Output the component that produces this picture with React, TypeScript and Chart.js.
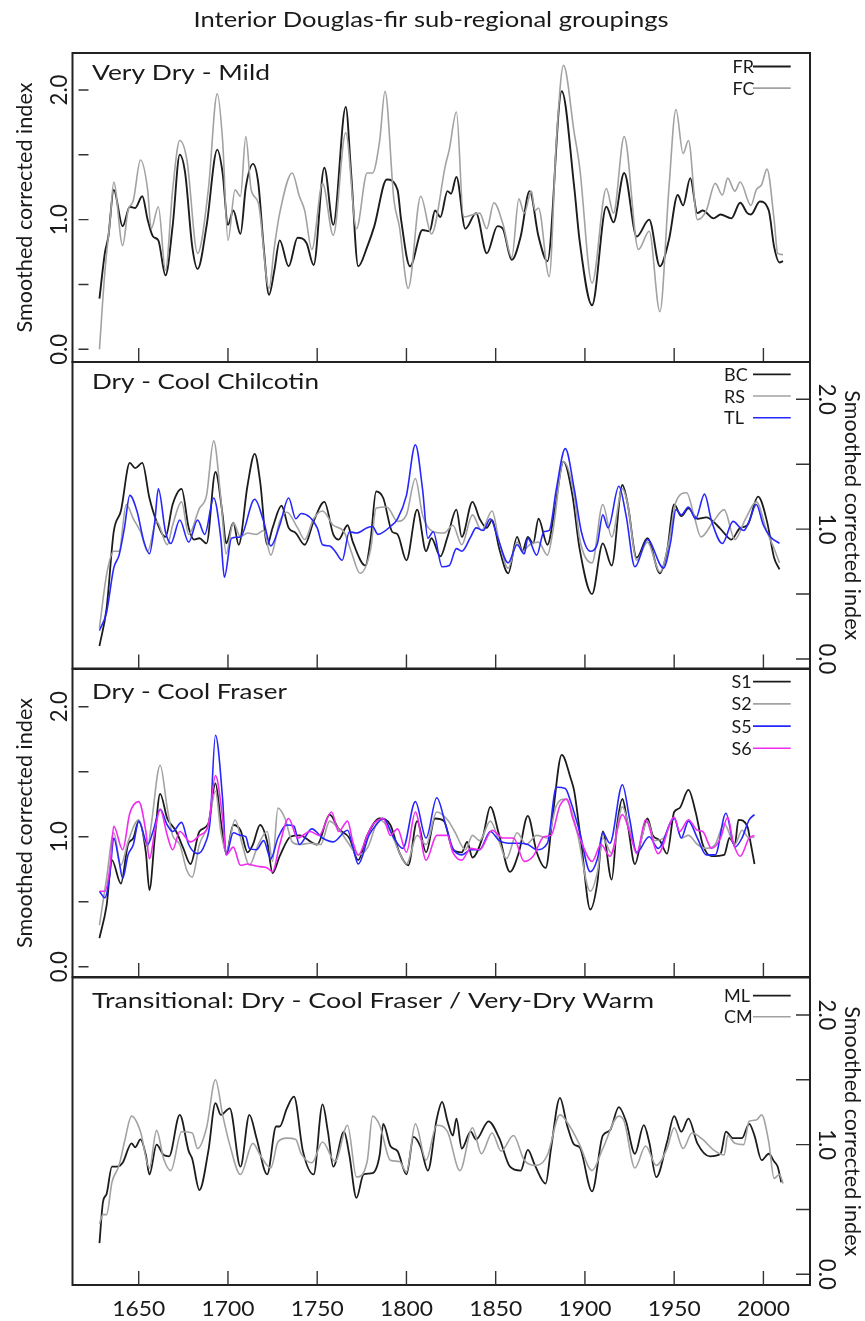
import React, { useEffect, useRef } from "react";
import { Chart, registerables } from "chart.js";

Chart.register(...registerables);

// ---------------- data ----------------
const FIGURE_TITLE = "Interior Douglas-fir sub-regional groupings";
const Y_TITLE = "Smoothed corrected index";
const X_TICKS = [1650, 1700, 1750, 1800, 1850, 1900, 1950, 2000];
const Y_TICKS = [0, 0.5, 1, 1.5, 2];
const Y_TICK_LABELS = ["0.0", "", "1.0", "", "2.0"];
const PANEL_TITLES = [
  "Very Dry - Mild",
  "Dry - Cool Chilcotin",
  "Dry - Cool Fraser",
  "Transitional: Dry - Cool Fraser / Very-Dry Warm",
];

// Panel 1
const FR_YEARS = [1628,1631,1633,1636,1641,1645,1648,1652,1655,1658,1661,1665,1669,1673,1676,1680,1683,1688,1694,1697,1700,1703,1707,1710,1714,1717,1720,1723,1726,1729,1734,1739,1744,1748,1754,1759,1766,1769,1773,1778,1782,1789,1795,1797,1802,1809,1813,1816,1819,1823,1825,1828,1833,1839,1845,1851,1854,1859,1864,1869,1874,1879,1887,1894,1897,1904,1912,1916,1922,1929,1936,1942,1947,1952,1955,1959,1963,1966,1972,1976,1982,1987,1991,1993,1998,2003,2006,2009,2011];
const FR_VALUES = [0.39,0.74,0.87,1.23,0.95,1.10,1.09,1.18,1.00,0.87,0.84,0.57,0.95,1.50,1.36,0.79,0.62,0.95,1.54,1.36,0.96,1.07,0.89,1.25,1.43,1.28,0.79,0.42,0.61,0.84,0.64,0.86,0.82,0.65,1.40,0.96,1.87,1.36,0.64,0.79,0.95,1.31,1.23,1.00,0.64,0.92,0.91,1.07,1.02,1.22,1.20,1.33,0.93,1.05,0.74,0.95,0.93,0.69,0.87,1.22,0.87,0.68,1.99,1.25,0.84,0.34,1.10,0.98,1.36,0.87,1.00,0.64,0.84,1.19,1.11,1.32,1.05,1.07,1.01,1.04,1.01,1.13,1.05,1.04,1.14,1.07,0.79,0.67,0.68];
const FC_YEARS = [1628,1631,1634,1636,1641,1644,1647,1651,1655,1657,1661,1665,1669,1673,1677,1683,1689,1694,1697,1700,1704,1707,1710,1713,1717,1723,1726,1729,1736,1740,1743,1747,1753,1759,1766,1772,1778,1781,1785,1788,1793,1796,1801,1808,1814,1822,1824,1828,1832,1841,1845,1849,1854,1859,1863,1866,1870,1872,1874,1880,1884,1888,1894,1897,1904,1912,1916,1922,1930,1936,1942,1947,1951,1955,1958,1963,1968,1973,1977,1980,1984,1987,1993,1996,1999,2002,2006,2008,2011];
const FC_VALUES = [0.00,0.59,1.00,1.29,0.80,1.07,1.15,1.46,1.23,0.93,1.10,0.61,1.23,1.61,1.46,0.74,1.23,1.97,1.61,0.84,1.23,1.18,1.64,1.23,1.13,0.47,0.79,1.05,1.36,1.18,1.07,0.77,1.28,0.88,1.67,0.93,1.36,1.36,1.61,1.99,1.15,0.95,0.47,1.18,0.89,1.43,1.54,1.83,1.02,1.05,0.93,1.13,0.97,0.71,1.16,1.05,1.22,1.07,1.09,0.56,1.61,2.19,1.67,1.41,0.51,1.24,1.05,1.64,0.77,0.91,0.29,1.23,1.85,1.51,1.61,1.00,1.07,1.28,1.19,1.32,1.22,1.29,1.11,1.23,1.27,1.39,1.00,0.74,0.73];

// Panel 2
const BC_YEARS = [1628,1632,1636,1640,1645,1648,1652,1656,1660,1665,1669,1674,1678,1681,1684,1688,1693,1697,1699,1703,1706,1711,1715,1718,1722,1725,1730,1734,1738,1743,1748,1754,1759,1762,1767,1770,1777,1780,1783,1787,1792,1795,1800,1806,1811,1814,1819,1823,1828,1831,1837,1841,1845,1848,1852,1857,1862,1865,1868,1871,1874,1879,1883,1888,1893,1897,1904,1910,1915,1921,1924,1929,1935,1942,1946,1950,1954,1958,1963,1968,1974,1978,1982,1987,1991,1997,2002,2006,2009];
const BC_VALUES = [0.10,0.39,0.98,1.14,1.51,1.47,1.51,1.24,1.06,0.94,1.19,1.31,1.01,0.92,0.93,0.89,1.44,1.11,0.89,1.05,0.88,1.34,1.58,1.37,0.88,1.01,1.18,1.01,0.97,0.88,1.06,1.21,0.96,0.92,1.03,0.90,0.72,0.93,1.29,1.24,0.98,0.96,0.76,1.15,0.83,0.93,0.79,0.94,1.15,0.94,1.21,1.08,1.01,1.07,0.85,0.66,0.94,0.83,0.94,0.89,1.08,0.88,1.14,1.52,1.26,0.85,0.50,0.89,0.72,1.34,1.19,0.78,0.93,0.66,0.83,1.19,1.10,1.16,1.08,1.09,1.03,0.97,0.92,1.01,1.03,1.25,1.06,0.78,0.69];
const RS_YEARS = [1628,1632,1636,1639,1643,1647,1651,1655,1660,1666,1669,1674,1678,1684,1688,1692,1696,1699,1703,1707,1711,1716,1720,1724,1729,1733,1739,1743,1748,1753,1759,1765,1769,1774,1780,1783,1789,1795,1800,1805,1809,1815,1821,1826,1831,1837,1842,1848,1852,1857,1862,1865,1869,1874,1879,1882,1888,1894,1897,1904,1910,1915,1921,1924,1929,1935,1942,1947,1951,1957,1961,1965,1972,1978,1984,1990,1996,2002,2006,2009];
const RS_VALUES = [0.24,0.65,0.83,0.83,1.19,1.08,0.98,0.83,1.06,0.88,1.03,1.21,0.96,1.16,1.26,1.68,1.24,0.81,1.05,0.94,0.97,0.96,0.99,0.80,1.06,1.13,1.01,0.92,1.08,1.14,1.03,0.98,0.83,0.66,0.85,1.16,1.17,1.06,1.11,1.39,1.11,0.98,0.97,1.03,0.88,1.11,0.99,1.14,0.90,0.70,0.90,0.83,0.88,0.90,0.80,0.98,1.52,1.26,0.93,0.74,1.19,0.94,1.31,1.19,0.76,0.90,0.67,0.90,1.21,1.28,1.11,0.94,1.06,1.15,0.92,1.08,1.21,0.98,0.85,0.74];
const TL_YEARS = [1628,1632,1636,1639,1642,1645,1649,1653,1656,1659,1661,1665,1668,1673,1678,1683,1687,1692,1696,1698,1702,1707,1715,1720,1724,1729,1734,1738,1741,1750,1753,1757,1760,1764,1768,1772,1778,1781,1784,1791,1795,1800,1805,1809,1812,1815,1820,1824,1828,1831,1836,1839,1843,1847,1851,1857,1862,1866,1868,1873,1877,1880,1884,1889,1894,1898,1903,1907,1910,1913,1919,1923,1928,1935,1944,1948,1951,1954,1958,1962,1967,1971,1977,1983,1989,1992,1996,2000,2004,2009];
const TL_VALUES = [0.22,0.36,0.70,0.80,1.01,1.26,1.14,0.90,0.81,1.06,1.31,0.98,0.89,1.07,0.90,1.07,0.96,1.24,0.93,0.63,0.93,0.94,1.23,1.06,0.87,1.03,1.24,1.08,1.12,1.01,0.88,0.87,0.83,0.76,0.98,0.97,1.01,1.02,0.96,1.02,1.08,1.26,1.65,1.31,0.93,0.98,0.71,0.72,0.85,0.83,0.94,1.01,0.99,1.08,0.94,0.74,0.88,0.81,0.93,0.80,0.98,0.99,1.31,1.62,1.31,0.98,0.83,0.89,1.11,1.01,1.33,1.11,0.71,0.92,0.70,0.90,1.15,1.11,1.17,1.08,1.27,1.06,0.89,1.06,0.99,1.06,1.19,1.03,0.94,0.89];

// Panel 3
const S1_YEARS = [1628,1632,1635,1640,1644,1647,1650,1654,1656,1659,1662,1666,1669,1671,1675,1679,1684,1689,1693,1696,1699,1703,1707,1711,1714,1718,1722,1725,1729,1735,1740,1750,1757,1762,1768,1773,1778,1785,1791,1796,1801,1806,1811,1816,1821,1826,1831,1834,1837,1843,1847,1852,1858,1863,1868,1873,1878,1882,1887,1892,1894,1898,1903,1907,1910,1915,1918,1921,1924,1928,1932,1935,1938,1942,1946,1950,1953,1958,1962,1966,1971,1978,1981,1984,1986,1991,1993,1995];
const S1_VALUES = [0.22,0.47,0.82,0.64,0.94,0.99,1.12,0.88,0.59,0.99,1.33,1.14,1.08,1.04,0.91,0.79,1.04,1.10,1.41,1.12,0.87,1.09,1.05,0.88,0.94,1.09,0.96,0.72,0.85,1.00,1.01,0.94,1.17,1.06,0.99,0.82,1.01,1.14,1.09,0.88,0.78,1.12,0.88,1.14,1.12,0.90,0.88,0.96,0.84,1.01,1.23,1.01,0.73,0.88,1.16,0.88,0.76,1.17,1.63,1.45,1.35,0.94,0.44,0.65,1.04,0.67,1.09,1.29,1.09,0.79,1.01,1.14,1.01,0.97,0.87,1.19,1.22,1.36,1.19,0.94,0.85,0.86,0.99,0.94,1.13,1.08,0.94,0.79];
const S2_YEARS = [1628,1632,1636,1640,1644,1650,1655,1657,1662,1666,1669,1673,1677,1680,1684,1689,1693,1696,1699,1704,1708,1712,1717,1722,1725,1728,1732,1736,1740,1746,1752,1757,1763,1767,1773,1778,1785,1791,1796,1800,1806,1811,1817,1823,1827,1833,1837,1841,1847,1852,1856,1862,1867,1873,1879,1884,1889,1892,1896,1903,1907,1910,1915,1921,1925,1929,1935,1939,1944,1950,1954,1958,1963,1968,1973,1978,1984,1988,1992,1995];
const S2_VALUES = [0.32,0.68,1.03,0.78,0.96,1.13,0.92,1.09,1.55,1.22,1.01,0.94,0.74,0.69,0.94,1.09,1.35,1.04,0.88,1.13,0.94,0.78,0.94,1.04,0.81,1.22,1.14,0.96,0.94,0.95,0.94,1.12,1.04,0.96,0.86,0.91,1.13,1.04,0.88,0.79,1.01,0.94,1.19,1.13,1.04,0.90,1.01,0.97,1.12,0.96,0.83,1.03,0.94,1.01,0.99,1.24,1.29,1.22,1.01,0.58,0.73,0.99,0.87,1.23,1.06,0.88,1.12,0.97,0.99,1.15,0.99,1.01,0.94,0.91,0.94,1.10,0.94,1.05,0.99,1.00];
const S5_YEARS = [1628,1631,1634,1636,1639,1641,1644,1647,1650,1655,1658,1662,1666,1669,1674,1678,1683,1687,1690,1693,1697,1699,1703,1707,1710,1712,1716,1720,1724,1728,1733,1737,1740,1747,1753,1759,1767,1770,1773,1779,1783,1787,1793,1798,1805,1811,1817,1822,1826,1831,1836,1841,1847,1852,1857,1863,1868,1873,1879,1884,1889,1892,1897,1903,1907,1910,1914,1921,1925,1929,1936,1941,1950,1954,1958,1963,1968,1973,1979,1984,1988,1992,1995];
const S5_VALUES = [0.58,0.53,0.73,0.99,0.81,0.68,0.86,0.94,1.12,0.94,1.04,1.21,1.09,1.04,1.11,0.94,0.87,0.94,1.12,1.78,1.29,0.86,1.03,1.01,1.00,0.91,0.90,0.97,0.83,0.99,1.09,1.08,0.94,1.06,0.99,0.96,1.05,0.92,0.79,1.01,1.09,1.14,0.99,0.91,1.27,0.99,1.30,1.09,0.91,0.86,0.90,0.90,1.04,0.97,0.95,0.95,0.94,0.90,0.95,1.38,1.37,1.27,1.04,0.73,0.83,1.03,0.95,1.40,1.14,0.88,1.00,0.91,1.14,0.99,1.12,0.99,0.86,0.86,1.18,0.92,0.99,1.13,1.17];
const S6_YEARS = [1628,1631,1634,1636,1641,1645,1650,1654,1656,1659,1662,1666,1669,1673,1679,1684,1689,1693,1697,1699,1703,1707,1711,1714,1718,1722,1725,1729,1734,1739,1746,1751,1758,1762,1767,1770,1773,1778,1781,1787,1791,1795,1800,1805,1811,1817,1823,1826,1831,1836,1841,1848,1854,1860,1866,1871,1877,1881,1886,1890,1893,1898,1904,1909,1914,1921,1926,1929,1934,1941,1950,1953,1958,1963,1966,1971,1976,1980,1983,1987,1992,1995];
const S6_VALUES = [0.58,0.58,0.78,1.08,0.90,1.18,1.27,1.04,0.83,1.04,1.21,1.01,0.90,1.04,0.96,1.01,1.09,1.47,1.14,0.86,0.92,0.78,0.79,0.78,0.77,0.76,0.73,0.94,1.14,0.99,1.04,1.01,1.19,1.04,1.12,0.96,0.86,1.01,1.09,1.14,1.01,1.06,0.88,1.19,0.82,1.01,1.01,0.88,0.82,0.91,0.90,1.05,0.99,0.99,0.81,0.85,1.00,1.01,1.24,1.29,1.15,0.96,0.81,0.94,0.85,1.17,0.99,0.87,1.13,0.87,1.15,1.04,1.13,1.05,1.04,0.91,0.99,1.15,0.96,0.85,0.99,1.01];

// Panel 4
const ML_YEARS = [1628,1630,1632,1635,1638,1641,1646,1648,1651,1654,1656,1660,1664,1667,1673,1678,1680,1684,1689,1693,1696,1701,1707,1712,1716,1722,1727,1729,1733,1737,1742,1748,1753,1756,1759,1765,1768,1772,1776,1781,1785,1787,1791,1795,1800,1804,1808,1812,1817,1820,1823,1826,1828,1831,1836,1839,1846,1852,1858,1864,1868,1872,1878,1881,1886,1890,1894,1897,1904,1910,1914,1919,1923,1928,1933,1936,1940,1946,1950,1954,1958,1963,1970,1976,1979,1983,1988,1992,1995,1999,2003,2006,2008,2010];
const ML_VALUES = [0.24,0.56,0.62,0.83,0.83,0.86,1.01,0.98,1.04,0.92,0.77,1.00,0.92,0.91,1.23,0.95,0.89,0.65,0.95,1.32,1.23,1.28,0.83,1.23,1.05,0.77,1.14,1.14,1.28,1.37,0.95,0.77,1.31,1.10,0.83,1.10,0.92,0.59,0.77,0.78,0.92,1.16,0.99,0.95,0.77,1.06,0.98,0.80,1.20,1.33,1.18,1.07,1.20,0.97,1.10,1.04,1.18,1.05,0.83,0.80,0.96,0.84,0.70,0.97,1.36,1.15,1.00,0.98,0.64,1.07,1.11,1.29,1.18,0.93,1.15,1.02,0.75,1.02,1.22,1.10,1.20,1.01,0.91,0.93,1.10,1.05,1.05,1.16,1.07,0.88,0.93,0.87,0.83,0.71];
const CM_YEARS = [1628,1630,1632,1635,1639,1642,1646,1651,1656,1660,1664,1668,1674,1680,1683,1688,1693,1697,1701,1707,1714,1718,1724,1728,1733,1738,1741,1747,1753,1760,1767,1772,1778,1781,1785,1791,1796,1800,1805,1811,1817,1823,1830,1837,1842,1848,1853,1860,1866,1873,1879,1886,1892,1897,1904,1910,1919,1922,1928,1934,1940,1946,1950,1955,1960,1966,1972,1978,1980,1984,1989,1992,1996,1999,2003,2006,2009,2011];
const CM_VALUES = [0.39,0.46,0.46,0.71,0.84,1.02,1.22,1.10,0.82,1.11,0.89,0.80,1.10,1.09,0.97,1.13,1.50,1.23,1.00,0.77,1.01,0.92,0.82,1.02,1.05,1.04,0.93,0.86,1.02,0.87,1.15,0.75,0.87,1.22,1.15,0.88,0.87,0.79,1.16,0.88,1.15,1.10,0.80,1.13,0.93,1.09,0.95,1.07,0.88,0.84,0.92,1.23,1.13,1.00,0.80,0.97,1.22,1.18,0.82,0.99,0.84,0.97,1.13,0.97,1.09,1.04,0.96,0.92,1.07,1.01,1.00,1.18,1.19,1.23,1.02,0.74,0.77,0.70];

// ---------------- styles / layout ----------------
const W = 865;
const H = 1321;
const X_MIN = 1612.9;
const X_MAX = 2026.1;
const FONT = "Lato, 'DejaVu Sans', sans-serif";
const INK = "#1a1a1a";
const BLACK = "#1c1c1c";
const GRAY = "#a2a2a2";
const BLUE = "#2626ff";
const MAGENTA = "#f02cf0";

type Series = { label: string; years: number[]; values: number[]; color: string; width: number };
type PanelCfg = {
  title: string; titleLen: number; titleBase: number;
  side: "left" | "right"; top: number; bottom: number; yMin: number; yMax: number;
  legendX: number; legendY: number; legendGap: number; xLabels: boolean; series: Series[];
};

const PANELS: PanelCfg[] = [
  {
    title: PANEL_TITLES[0], titleLen: 178, titleBase: 79.5, side: "left",
    top: 53, bottom: 362, yMin: -0.098, yMax: 2.2854,
    legendX: 732.5, legendY: 66.5, legendGap: 21.6, xLabels: false,
    series: [
      { label: "FR", years: FR_YEARS, values: FR_VALUES, color: BLACK, width: 1.9 },
      { label: "FC", years: FC_YEARS, values: FC_VALUES, color: GRAY, width: 1.6 },
    ],
  },
  {
    title: PANEL_TITLES[1], titleLen: 227, titleBase: 388.5, side: "right",
    top: 362, bottom: 668.5, yMin: -0.0732, yMax: 2.2872,
    legendX: 724, legendY: 374.3, legendGap: 21.7, xLabels: false,
    series: [
      { label: "BC", years: BC_YEARS, values: BC_VALUES, color: BLACK, width: 1.8 },
      { label: "RS", years: RS_YEARS, values: RS_VALUES, color: GRAY, width: 1.6 },
      { label: "TL", years: TL_YEARS, values: TL_VALUES, color: BLUE, width: 1.6 },
    ],
  },
  {
    title: PANEL_TITLES[2], titleLen: 195, titleBase: 698.5, side: "left",
    top: 669, bottom: 977, yMin: -0.0792, yMax: 2.29,
    legendX: 731.5, legendY: 681.7, legendGap: 22.2, xLabels: false,
    series: [
      { label: "S1", years: S1_YEARS, values: S1_VALUES, color: BLACK, width: 1.8 },
      { label: "S2", years: S2_YEARS, values: S2_VALUES, color: GRAY, width: 1.6 },
      { label: "S5", years: S5_YEARS, values: S5_VALUES, color: BLUE, width: 1.6 },
      { label: "S6", years: S6_YEARS, values: S6_VALUES, color: MAGENTA, width: 1.6 },
    ],
  },
  {
    title: PANEL_TITLES[3], titleLen: 562, titleBase: 1007.5, side: "right",
    top: 977.5, bottom: 1285, yMin: -0.0825, yMax: 2.2892,
    legendX: 724, legendY: 995.7, legendGap: 21, xLabels: true,
    series: [
      { label: "ML", years: ML_YEARS, values: ML_VALUES, color: BLACK, width: 1.8 },
      { label: "CM", years: CM_YEARS, values: CM_VALUES, color: GRAY, width: 1.6 },
    ],
  },
];

function drawText(
  ctx: CanvasRenderingContext2D, text: string, x: number, y: number, size: number,
  opts: { align?: CanvasTextAlign; baseline?: CanvasTextBaseline; rot?: number; len?: number } = {}
) {
  ctx.save();
  ctx.translate(x, y);
  if (opts.rot) ctx.rotate(opts.rot);
  ctx.font = `${size}px ${FONT}`;
  if (opts.len) {
    const w = ctx.measureText(text).width;
    if (w > 0) ctx.scale(opts.len / w, 1);
  }
  ctx.textAlign = opts.align || "left";
  ctx.textBaseline = opts.baseline || "alphabetic";
  ctx.fillStyle = INK;
  ctx.fillText(text, 0, 0);
  ctx.restore();
}

function decoPlugin(p: PanelCfg, idx: number) {
  return {
    id: "deco" + idx,
    afterDraw(chart: any) {
      const ctx: CanvasRenderingContext2D = chart.ctx;
      const a = chart.chartArea;
      const xs = chart.scales.x;
      const ys = chart.scales.y;
      ctx.save();
      // frame
      ctx.strokeStyle = "#222";
      ctx.lineWidth = 2;
      ctx.strokeRect(a.left, a.top, a.right - a.left, a.bottom - a.top);
      // ticks
      ctx.lineWidth = 1.4;
      ctx.strokeStyle = "#333";
      ctx.beginPath();
      X_TICKS.forEach((t) => {
        const px = xs.getPixelForValue(t);
        ctx.moveTo(px, a.bottom);
        ctx.lineTo(px, a.bottom - 14);
      });
      Y_TICKS.forEach((v) => {
        const py = ys.getPixelForValue(v);
        if (p.side === "left") {
          ctx.moveTo(a.left + 6, py);
          ctx.lineTo(a.left + 16, py);
        } else {
          ctx.moveTo(a.right - 14, py);
          ctx.lineTo(a.right - 1, py);
        }
      });
      ctx.stroke();
      // y tick labels
      Y_TICKS.forEach((v, k) => {
        const lab = Y_TICK_LABELS[k];
        if (!lab) return;
        const py = ys.getPixelForValue(v);
        if (p.side === "left") drawText(ctx, lab, 66.5, py, 23, { rot: -Math.PI / 2, align: "center", len: 31 });
        else drawText(ctx, lab, 818.5, py, 23, { rot: Math.PI / 2, align: "center", len: 31 });
      });
      // axis title
      const cy = (a.top + a.bottom) / 2;
      if (p.side === "left") drawText(ctx, Y_TITLE, 32, cy, 21, { rot: -Math.PI / 2, align: "center", len: 250 });
      else drawText(ctx, Y_TITLE, 845, cy, 21, { rot: Math.PI / 2, align: "center", len: 250 });
      // panel title
      drawText(ctx, p.title, 92, p.titleBase, 22, { len: p.titleLen });
      // legend
      chart.data.datasets.forEach((ds: any, k: number) => {
        const ry = p.legendY + k * p.legendGap;
        drawText(ctx, ds.label, p.legendX, ry + 6.5, 18);
        ctx.strokeStyle = ds.borderColor;
        ctx.lineWidth = ds.borderWidth;
        ctx.beginPath();
        ctx.moveTo(753, ry);
        ctx.lineTo(790.7, ry);
        ctx.stroke();
      });
      // x tick labels
      if (p.xLabels) {
        X_TICKS.forEach((t) => drawText(ctx, String(t), xs.getPixelForValue(t), 1315.5, 21, { align: "center", len: 53 }));
      }
      if (idx === 0) drawText(ctx, FIGURE_TITLE, 431, 27, 21, { align: "center", len: 475 });
      ctx.restore();
    },
  };
}

function makeChart(canvas: HTMLCanvasElement, p: PanelCfg, idx: number) {
  const n = p.series.length;
  return new Chart(canvas, {
    type: "line",
    data: {
      datasets: p.series.map((s, i) => ({
        label: s.label,
        data: s.years.map((yr, j) => ({ x: yr, y: s.values[j] })),
        borderColor: s.color,
        borderWidth: s.width,
        pointRadius: 0,
        fill: false,
        cubicInterpolationMode: "monotone" as const,
        order: n - i,
      })),
    },
    options: {
      animation: false,
      responsive: false,
      devicePixelRatio: 1,
      events: [],
      layout: { padding: { left: 72.5, right: W - 810, top: p.top, bottom: H - p.bottom } },
      scales: {
        x: { type: "linear", min: X_MIN, max: X_MAX, display: false },
        y: { type: "linear", min: p.yMin, max: p.yMax, display: false },
      },
      plugins: { legend: { display: false }, tooltip: { enabled: false }, title: { display: false } },
    },
    plugins: [decoPlugin(p, idx)],
  } as any);
}

export default function App() {
  const r0 = useRef<HTMLCanvasElement>(null);
  const r1 = useRef<HTMLCanvasElement>(null);
  const r2 = useRef<HTMLCanvasElement>(null);
  const r3 = useRef<HTMLCanvasElement>(null);
  const refs = [r0, r1, r2, r3];

  useEffect(() => {
    const charts = PANELS.map((p, i) => makeChart(refs[i].current as HTMLCanvasElement, p, i));
    return () => charts.forEach((c) => c.destroy());
  }, []);

  return (
    <div style={{ position: "absolute", left: 0, top: 0, width: W, height: H, background: "#fff" }}>
      {PANELS.map((_, i) => (
        <canvas
          key={i}
          ref={refs[i]}
          width={W}
          height={H}
          style={{ position: "absolute", left: 0, top: 0, width: W, height: H }}
        />
      ))}
    </div>
  );
}
